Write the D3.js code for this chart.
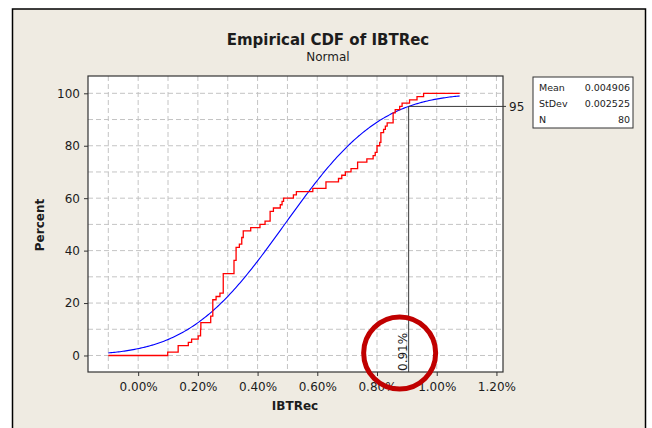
<!DOCTYPE html>
<html>
<head>
<meta charset="utf-8">
<script src="https://cdn.jsdelivr.net/npm/d3@7"></script>
<style>
body { margin: 0; background: #fff; }
svg text { font-family: "DejaVu Sans", Verdana, sans-serif; fill: #1c1c1c; }
</style>
</head>
<body>
<svg id="chart" width="652" height="428"></svg>
<script>
// IBTRec sample values (sorted, as fractions; axis shows percent)
var ibtrec = [
    0.00099, 0.00134, 0.00134, 0.00168, 0.00179, 0.00201, 0.00209, 0.00209, 0.00210, 0.00210,
    0.00243, 0.00243, 0.00250, 0.00250, 0.00250, 0.00250, 0.00250, 0.00261, 0.00274, 0.00285,
    0.00285, 0.00285, 0.00285, 0.00285, 0.00285, 0.00321, 0.00321, 0.00321, 0.00321, 0.00328,
    0.00328, 0.00328, 0.00328, 0.00339, 0.00347, 0.00347, 0.00352, 0.00352, 0.00377, 0.00408,
    0.00425, 0.00442, 0.00442, 0.00442, 0.00453, 0.00476, 0.00482, 0.00487, 0.00520, 0.00530,
    0.00585, 0.00629, 0.00629, 0.00671, 0.00682, 0.00694, 0.00713, 0.00735, 0.00735, 0.00766,
    0.00787, 0.00794, 0.00800, 0.00800, 0.00809, 0.00813, 0.00813, 0.00813, 0.00822, 0.00828,
    0.00834, 0.00854, 0.00854, 0.00854, 0.00861, 0.00876, 0.00884, 0.00909, 0.00934, 0.00956
];

var statLabels = ["Mean", "StDev", "N"];
var statValues = ["0.004906", "0.002525", "80"];
var fitMean = 0.004906;
var fitSd = 0.002525;
var lineRange = [-0.001, 0.01077];

var xTicks = [0, 0.002, 0.004, 0.006, 0.008, 0.010, 0.012];
var yTicks = [0, 20, 40, 60, 80, 100];
var xGrid = [-0.001, 0, 0.001, 0.002, 0.003, 0.004, 0.005, 0.006, 0.007, 0.008, 0.009, 0.010, 0.011, 0.012];
var yGrid = [0, 10, 20, 30, 40, 50, 60, 70, 80, 90, 100];

var refPercent = 95;
var refValue = 0.00906;
var refLabel = "0.91%";

var titleText = "Empirical CDF of IBTRec";
var subTitle = "Normal";

// normal cdf for the fitted line
function normCdf(v) {
    var z = (v - fitMean) / (fitSd * Math.SQRT2);
    var t = 1 / (1 + 0.3275911 * Math.abs(z));
    var e = 1 - (((((1.061405429 * t - 1.453152027) * t) + 1.421413741) * t - 0.284496736) * t + 0.254829592) * t * Math.exp(-z * z);
    return 50 * (1 + (z < 0 ? -e : e));
}

var svg = d3.select("#chart");
var L = 88, R = 503, T = 76, B = 372;

var x = d3.scaleLinear().domain([-0.00168, 0.01222]).range([L, R]);
var y = d3.scaleLinear().domain([-6.3, 106.6]).range([B, T]);

// background + frame
svg.append("rect").attr("x", 12.5).attr("y", 9).attr("width", 633).attr("height", 430)
    .attr("fill", "#efebe2").attr("stroke", "#000").attr("stroke-width", 1.5);

svg.append("rect").attr("x", L).attr("y", T).attr("width", R - L).attr("height", B - T)
    .attr("fill", "#fff");

// gridlines
svg.append("g").selectAll("line").data(xGrid).enter().append("line")
    .attr("x1", function(d) { return x(d); }).attr("x2", function(d) { return x(d); })
    .attr("y1", T).attr("y2", B)
    .attr("stroke", "#c4c4c4").attr("stroke-dasharray", "5,3");
svg.append("g").selectAll("line").data(yGrid).enter().append("line")
    .attr("y1", function(d) { return y(d); }).attr("y2", function(d) { return y(d); })
    .attr("x1", L).attr("x2", R)
    .attr("stroke", "#c4c4c4").attr("stroke-dasharray", "5,3");

// fitted normal line
var fitPts = [];
var n = 240;
for (var i = 0; i <= n; i++) {
    var v = lineRange[0] + (lineRange[1] - lineRange[0]) * i / n;
    fitPts.push([v, normCdf(v)]);
}
var line = d3.line().x(function(d) { return x(d[0]); }).y(function(d) { return y(d[1]); });
svg.append("path").attr("d", line(fitPts))
    .attr("fill", "none").attr("stroke", "#0000ff").attr("stroke-width", 1.1);

// empirical cdf
var ecdf = [[lineRange[0], 0]];
ibtrec.forEach(function(d, i) { ecdf.push([d, (i + 1) / ibtrec.length * 100]); });
ecdf.push([lineRange[1], 100]);
var step = d3.line().curve(d3.curveStepAfter)
    .x(function(d) { return x(d[0]); }).y(function(d) { return y(d[1]); });
svg.append("path").attr("d", step(ecdf))
    .attr("fill", "none").attr("stroke", "#ff0000").attr("stroke-width", 1.3);

// reference lines
svg.append("line")
    .attr("x1", x(refValue)).attr("x2", R + 3)
    .attr("y1", y(refPercent)).attr("y2", y(refPercent))
    .attr("stroke", "#3a3a3a").attr("stroke-width", 1);
svg.append("line")
    .attr("x1", x(refValue)).attr("x2", x(refValue))
    .attr("y1", y(refPercent)).attr("y2", B)
    .attr("stroke", "#3a3a3a").attr("stroke-width", 1);
svg.append("text").attr("x", R + 6).attr("y", y(refPercent) + 4.5)
    .attr("font-size", 12).text(refPercent);
svg.append("text")
    .attr("transform", "translate(" + (x(refValue) - 2) + "," + (B - 1) + ") rotate(-90)")
    .attr("font-size", 12).text(refLabel);

// plot border
svg.append("rect").attr("x", L).attr("y", T).attr("width", R - L).attr("height", B - T)
    .attr("fill", "none").attr("stroke", "#333").attr("stroke-width", 1.2);

// axes
var xAxis = d3.axisBottom(x).tickValues(xTicks).tickFormat(d3.format(".2%")).tickSize(4).tickPadding(6);
var gx = svg.append("g").attr("transform", "translate(0," + B + ")").call(xAxis);
var yAxis = d3.axisLeft(y).tickValues(yTicks).tickSize(4).tickPadding(4);
var gy = svg.append("g").attr("transform", "translate(" + L + ",0)").call(yAxis);
[gx, gy].forEach(function(g) {
    g.select(".domain").remove();
    g.selectAll(".tick line").attr("stroke", "#333");
    g.selectAll(".tick text").attr("font-size", 12).attr("font-family", null).style("fill", "#1c1c1c");
});

// titles
svg.append("text").attr("x", 328).attr("y", 45).attr("text-anchor", "middle")
    .attr("font-size", 15).attr("font-weight", "bold").text(titleText);
svg.append("text").attr("x", 328).attr("y", 61).attr("text-anchor", "middle")
    .attr("font-size", 12).text(subTitle);
svg.append("text").attr("x", 295).attr("y", 410).attr("text-anchor", "middle")
    .attr("font-size", 12).attr("font-weight", "bold").text("IBTRec");
svg.append("text").attr("transform", "translate(44,225) rotate(-90)").attr("text-anchor", "middle")
    .attr("font-size", 12).attr("font-weight", "bold").text("Percent");

// stats box
var box = svg.append("g").attr("transform", "translate(533,77)");
box.append("rect").attr("width", 100).attr("height", 51)
    .attr("fill", "#fff").attr("stroke", "#333").attr("stroke-width", 1);
box.selectAll("text.lab").data(statLabels).enter().append("text")
    .attr("class", "lab").attr("x", 6).attr("y", function(d, i) { return 13.5 + i * 16; })
    .attr("font-size", 9.5).text(function(d) { return d; });
box.selectAll("text.val").data(statValues).enter().append("text")
    .attr("class", "val").attr("x", 97).attr("y", function(d, i) { return 13.5 + i * 16; })
    .attr("text-anchor", "end").attr("font-size", 9.5).text(function(d) { return d; });

// red highlight circle round the reference label
svg.append("circle").attr("cx", x(refValue) - 9).attr("cy", y(0) - 2.5).attr("r", 36)
    .attr("fill", "none").attr("stroke", "#c00000").attr("stroke-width", 5);
</script>
</body>
</html>
